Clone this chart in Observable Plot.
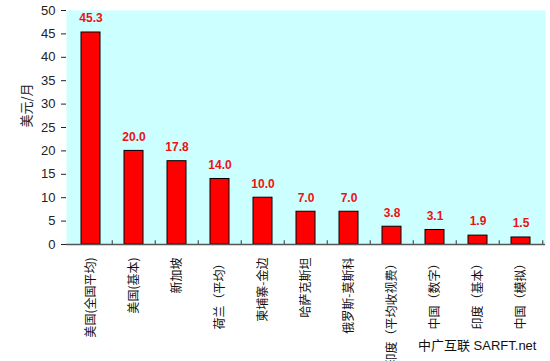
<!DOCTYPE html>
<html>
<head>
<meta charset="utf-8">
<script src="https://cdn.jsdelivr.net/npm/d3@7"></script>
<script src="https://cdn.jsdelivr.net/npm/@observablehq/plot@0.6"></script>
<style>
  html, body { margin: 0; padding: 0; background: #fff; }
  #wrap { position: relative; width: 550px; height: 361px; }
  #caption { position: absolute; left: 418px; top: 335px; font: 13px "Liberation Sans", "Noto Sans CJK SC", sans-serif; color: #111; white-space: nowrap; }
</style>
</head>
<body>
<div id="wrap"><div id="chart"></div><div id="caption">中广互联 SARFT.net</div></div>
<script>
const categories = ["美国(全国平均)", "美国(基本)", "新加坡", "荷兰（平均）", "柬埔寨-金边", "哈萨克斯坦", "俄罗斯-莫斯科", "印度（平均收视费）", "中国（数字）", "印度（基本）", "中国（模拟）"];
const values = [45.3, 20.0, 17.8, 14.0, 10.0, 7.0, 7.0, 3.8, 3.1, 1.9, 1.5];
const yTicks = [0, 5, 10, 15, 20, 25, 30, 35, 40, 45, 50];
const yLabel = "美元/月";

const data = categories.map((c, i) => ({category: c, value: values[i]}));

const W = 550, H = 361, mL = 66, mR = 5, mT = 10, mB = 117;
const step = (W - mL - mR) / categories.length;

const chart = Plot.plot({
  width: W,
  height: H,
  marginLeft: mL,
  marginRight: mR,
  marginTop: mT,
  marginBottom: mB,
  style: {background: "#fff", fontFamily: "'Liberation Sans', Arial, sans-serif"},
  x: {domain: categories, padding: 0.56, paddingOuter: 0.28, label: null},
  y: {domain: [0, 50], label: null},
  marks: [
    Plot.frame({fill: "#CCFFFF", stroke: null}),
    Plot.barY(data, {x: "category", y: "value", fill: "#FF0000", stroke: "#000", strokeWidth: 1}),
    Plot.text(data, {x: "category", y: "value", text: d => d.value.toFixed(1), dy: -14, fill: "#EE1111", fontWeight: "bold", fontSize: 12}),
    Plot.ruleX(categories.slice(1), {x: d => d, y1: 0, y2: 0.8, dx: -step / 2, stroke: "#333"}),
    Plot.ruleX(categories.slice(-1), {x: d => d, y1: 0, y2: 0.8, dx: step / 2, stroke: "#333"}),
    Plot.ruleY([0], {stroke: "#555", strokeWidth: 1.5}),
    Plot.ruleX([0], {x: () => 0, frameAnchor: "left", stroke: "#222"}),
    Plot.axisY({ticks: yTicks, tickSize: 5, tickPadding: 6, fontSize: 13, fill: "#222", stroke: "#222"}),
    Plot.axisX({tickRotate: -90, tickSize: 0, tickPadding: 13, fontSize: 12, fontFamily: "'Noto Sans CJK SC', sans-serif", fill: "#111", label: null}),
    Plot.text([yLabel], {frameAnchor: "left", dx: -40, dy: 0, rotate: -90, fontSize: 13, fontFamily: "'Noto Sans CJK SC', sans-serif", fill: "#222"})
  ]
});
document.getElementById("chart").appendChild(chart);
</script>
</body>
</html>
